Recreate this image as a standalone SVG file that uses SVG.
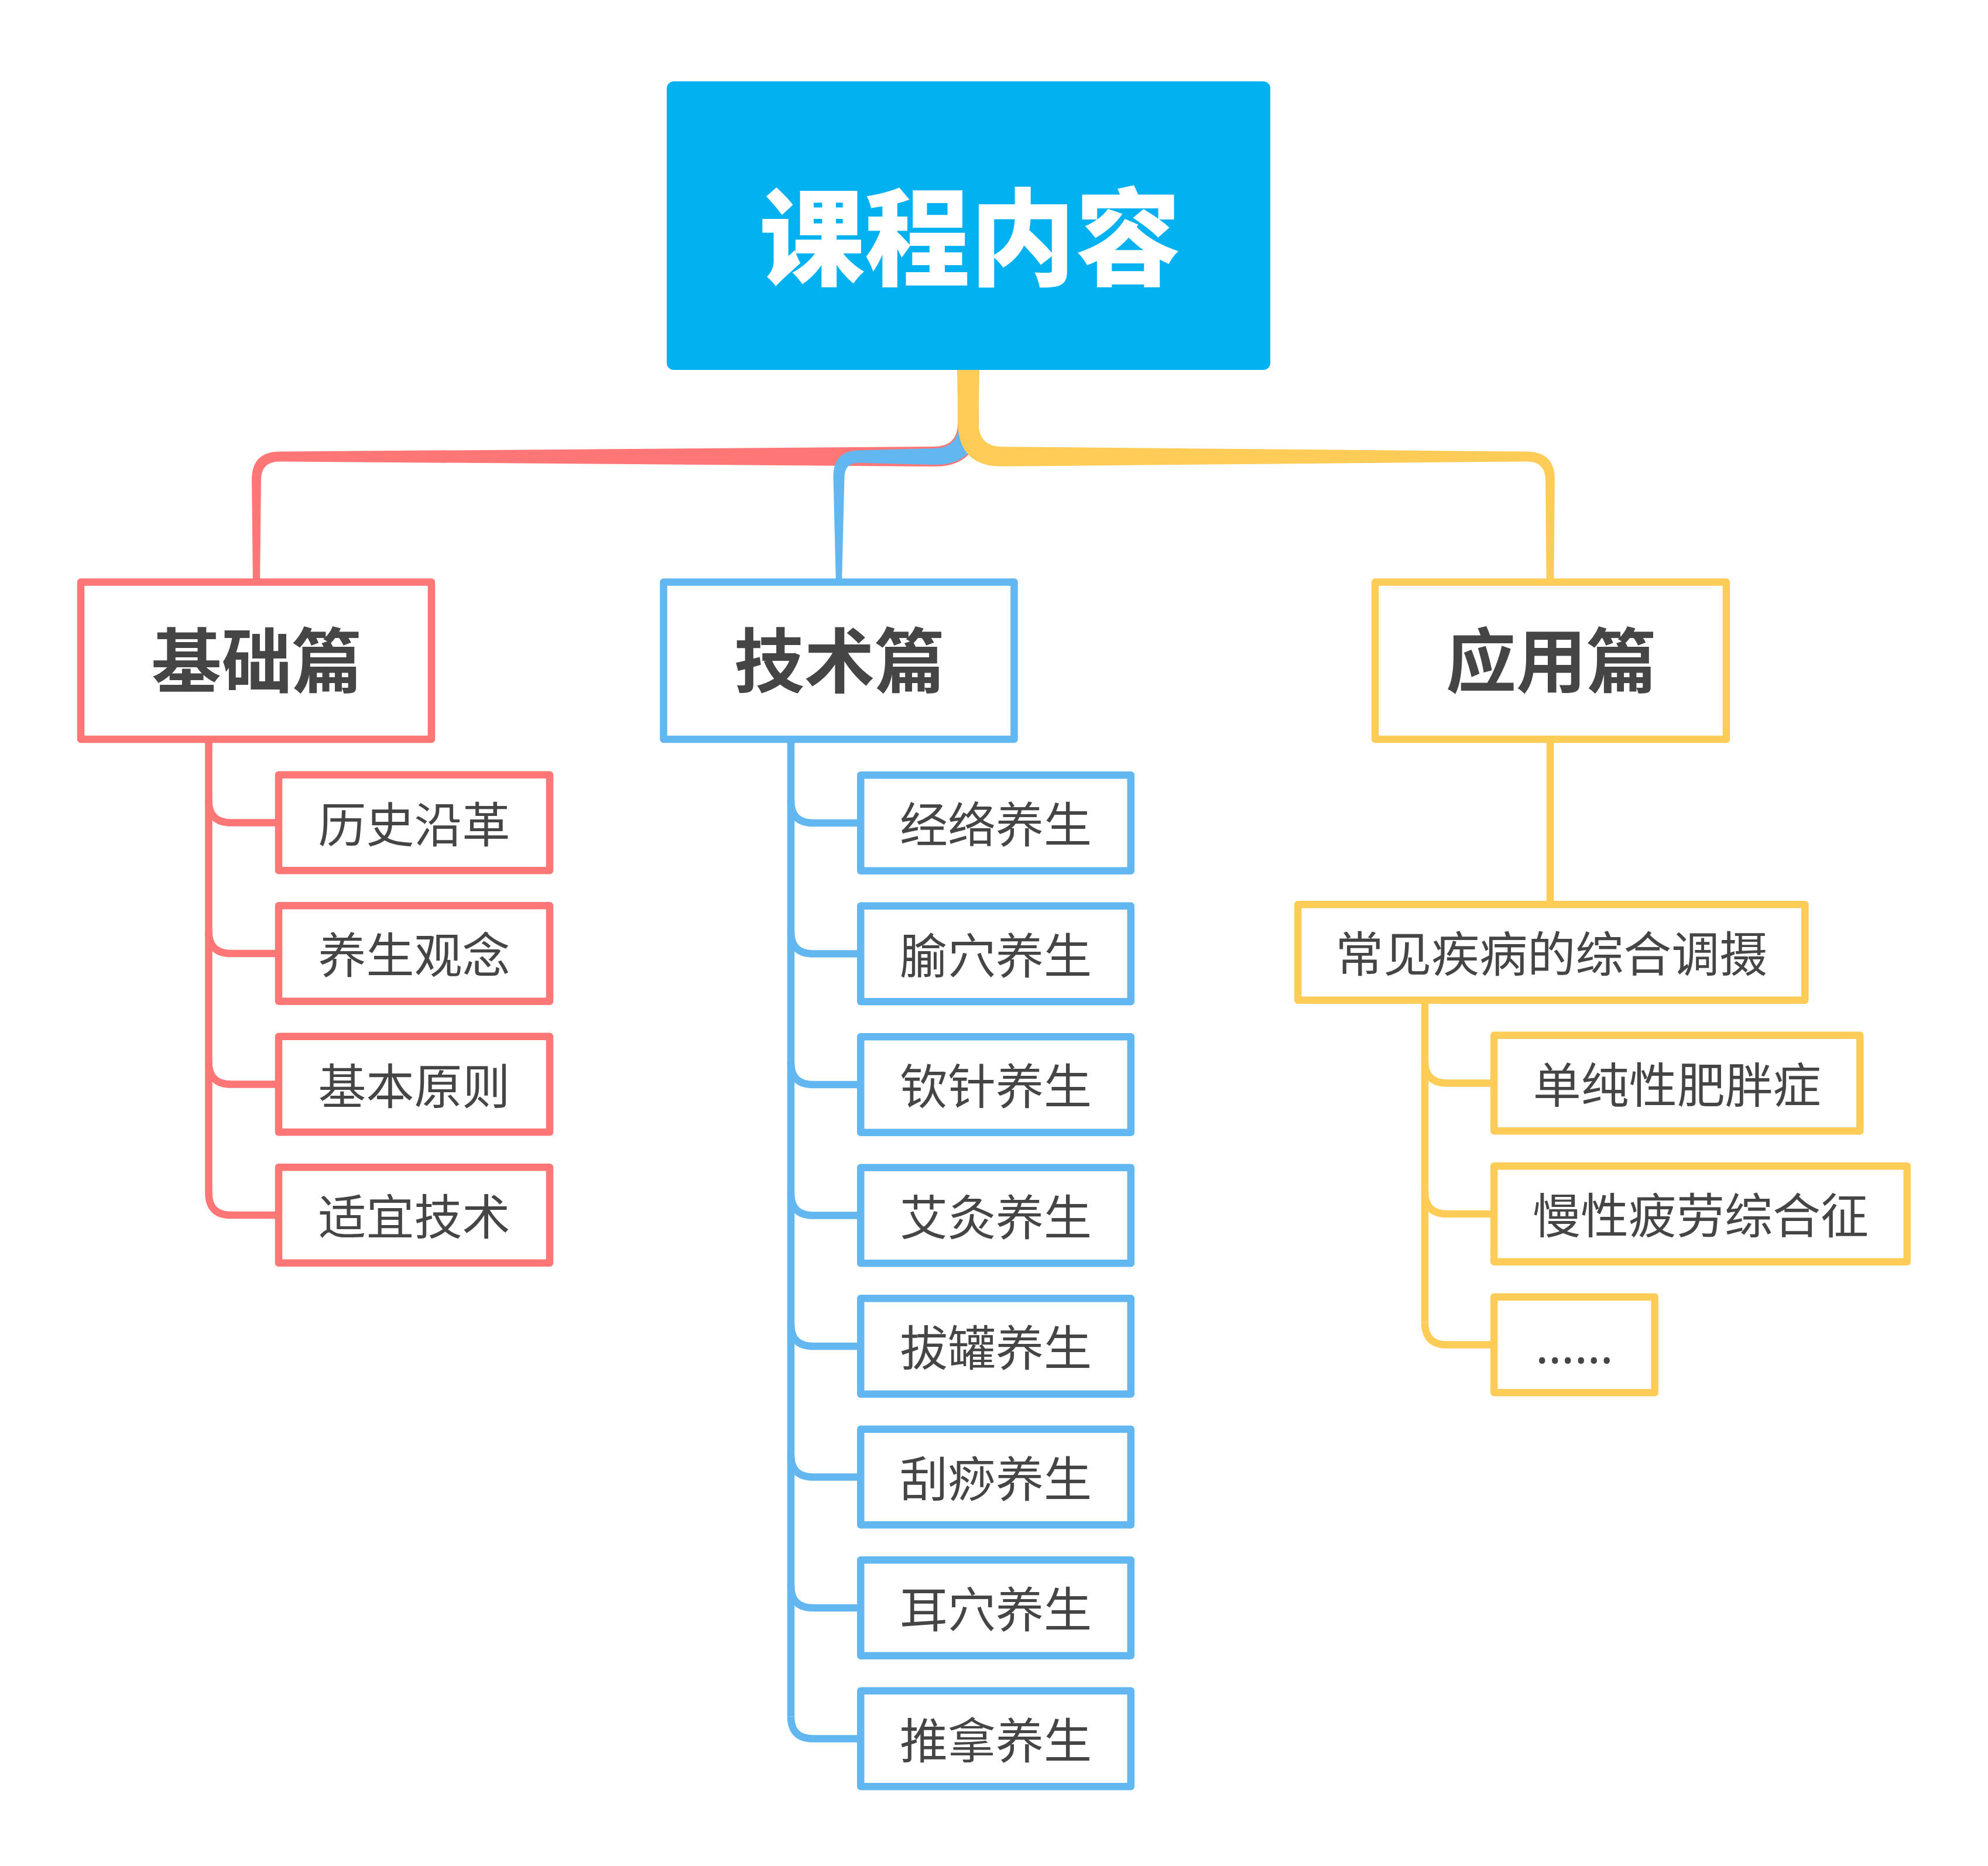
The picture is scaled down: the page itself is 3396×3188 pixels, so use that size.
<svg xmlns="http://www.w3.org/2000/svg" width="3396" height="3188" viewBox="0 0 3396 3188">
<style>
.t{font-family:"Noto Sans CJK SC","Noto Sans",sans-serif;fill:#454545;text-anchor:middle;dominant-baseline:central}
.c{font-size:82px}
.h{font-size:120px;font-weight:700}
.box{fill:#fff;stroke-width:12.5;stroke-linejoin:round}
.r{stroke:#FF7676}
.b{stroke:#62B7F0}
.y{stroke:#FFCC58}
.ln{fill:none;stroke-width:12.5;stroke-linecap:butt}
</style>
<rect width="3396" height="3188" fill="#fff"/>
<g id="connectors">
  <path fill="#FF7676" d="M1672.5,625 L1671.77,722 Q1671.4,797.4 1596,797.03 L478,788.44 Q446.2,788.2 445.92,820 L444,1000 L432,1000 L430.08,820 Q429.8,771.8 478,771.56 L1596,762.97 Q1636.6,762.6 1636.23,722 L1635.5,625 Z"/>
  <path fill="#62B7F0" d="M1672.5,625 L1670.27,722 Q1669.1,795.1 1596,794 L1468,790.83 Q1443.1,790.1 1442.47,815 L1438,1000 L1428,1000 L1423.53,815 Q1422.9,769.9 1468,769.17 L1596,766 Q1638.9,764.9 1637.73,722 L1635.5,625 Z"/>
  <path fill="#FFCC58" d="M1672.5,625 L1671.65,722 Q1671.2,762.8 1712,763.2 L2608,771.55 Q2656.2,771.8 2655.9,820 L2654.25,1000 L2641.75,1000 L2640.1,820 Q2639.8,788.2 2608,788.45 L1712,796.8 Q1636.8,797.2 1636.35,722 L1635.5,625 Z"/>
  <g class="ln r">
    <path d="M356.5,1263 V2038"/>
    <path d="M356.5,1367.5 Q356.5,1405.5 394.5,1405.5 H476"/>
    <path d="M356.5,1591 Q356.5,1629 394.5,1629 H476"/>
    <path d="M356.5,1814.5 Q356.5,1852.5 394.5,1852.5 H476"/>
    <path d="M356.5,2038 Q356.5,2076 394.5,2076 H476"/>
  </g>
  <g class="ln b">
    <path d="M1351,1263 V2932.5"/>
    <path d="M1351,1368 Q1351,1406 1389,1406 H1470"/>
    <path d="M1351,1591.5 Q1351,1629.5 1389,1629.5 H1470"/>
    <path d="M1351,1815 Q1351,1853 1389,1853 H1470"/>
    <path d="M1351,2038.5 Q1351,2076.5 1389,2076.5 H1470"/>
    <path d="M1351,2262 Q1351,2300 1389,2300 H1470"/>
    <path d="M1351,2485.5 Q1351,2523.5 1389,2523.5 H1470"/>
    <path d="M1351,2709 Q1351,2747 1389,2747 H1470"/>
    <path d="M1351,2932.5 Q1351,2970.5 1389,2970.5 H1470"/>
  </g>
  <g class="ln y">
    <path d="M2648,1263 V1546"/>
    <path d="M2434,1708 V2259.5"/>
    <path d="M2434,1812.5 Q2434,1850.5 2472,1850.5 H2552"/>
    <path d="M2434,2036 Q2434,2074 2472,2074 H2552"/>
    <path d="M2434,2259.5 Q2434,2297.5 2472,2297.5 H2552"/>
  </g>
</g>
<g id="root">
  <rect x="1139" y="139" width="1031" height="493" rx="12" fill="#02B1F0"/>
  <text x="1657" y="394" class="t" style="fill:#fff;font-size:180px;font-weight:900">课程内容</text>
</g>
<g id="n-jichu">
  <rect class="box r" x="138" y="994.5" width="599" height="268.5"/>
  <text class="t h" x="438.5" y="1122">基础篇</text>
</g>
<g id="n-jishu">
  <rect class="box b" x="1133.5" y="994.5" width="599" height="268.5"/>
  <text class="t h" x="1434" y="1122">技术篇</text>
</g>
<g id="n-yingyong">
  <rect class="box y" x="2349" y="994.5" width="600" height="268.5"/>
  <text class="t h" x="2650" y="1122">应用篇</text>
</g>
<g id="r1"><rect class="box r" x="476" y="1323.75" width="463" height="163.5"/><text class="t c" x="707.5" y="1403">历史沿革</text></g>
<g id="r2"><rect class="box r" x="476" y="1547.25" width="463" height="163.5"/><text class="t c" x="707.5" y="1626.5">养生观念</text></g>
<g id="r3"><rect class="box r" x="476" y="1770.75" width="463" height="163.5"/><text class="t c" x="707.5" y="1850">基本原则</text></g>
<g id="r4"><rect class="box r" x="476" y="1994.25" width="463" height="163.5"/><text class="t c" x="707.5" y="2073.5">适宜技术</text></g>
<g id="b1"><rect class="box b" x="1470.25" y="1324.25" width="461.5" height="163.5"/><text class="t c" x="1701" y="1403.5">经络养生</text></g>
<g id="b2"><rect class="box b" x="1470.25" y="1547.75" width="461.5" height="163.5"/><text class="t c" x="1701" y="1627">腧穴养生</text></g>
<g id="b3"><rect class="box b" x="1470.25" y="1771.25" width="461.5" height="163.5"/><text class="t c" x="1701" y="1850.5">钦针养生</text></g>
<g id="b4"><rect class="box b" x="1470.25" y="1994.75" width="461.5" height="163.5"/><text class="t c" x="1701" y="2074">艾灸养生</text></g>
<g id="b5"><rect class="box b" x="1470.25" y="2218.25" width="461.5" height="163.5"/><text class="t c" x="1701" y="2297.5">拔罐养生</text></g>
<g id="b6"><rect class="box b" x="1470.25" y="2441.75" width="461.5" height="163.5"/><text class="t c" x="1701" y="2521">刮痧养生</text></g>
<g id="b7"><rect class="box b" x="1470.25" y="2665.25" width="461.5" height="163.5"/><text class="t c" x="1701" y="2744.5">耳穴养生</text></g>
<g id="b8"><rect class="box b" x="1470.25" y="2888.75" width="461.5" height="163.5"/><text class="t c" x="1701" y="2968">推拿养生</text></g>
<g id="y0"><rect class="box y" x="2217.25" y="1545.25" width="866" height="163.5"/><text class="t c" x="2650.25" y="1624.5">常见疾病的综合调摄</text></g>
<g id="y1"><rect class="box y" x="2552.25" y="1768.75" width="625" height="163.5"/><text class="t c" x="2864.75" y="1848">单纯性肥胖症</text></g>
<g id="y2"><rect class="box y" x="2552.25" y="1992.25" width="705.5" height="163.5"/><text class="t c" x="2905" y="2071.5">慢性疲劳综合征</text></g>
<g id="y3"><rect class="box y" x="2552.25" y="2215.75" width="274.5" height="163.5"/><text x="2689.5" y="2329" style="font-family:'Noto Sans','Noto Sans CJK SC',sans-serif;font-size:84px;fill:#454545;text-anchor:middle">……</text></g>
</svg>
